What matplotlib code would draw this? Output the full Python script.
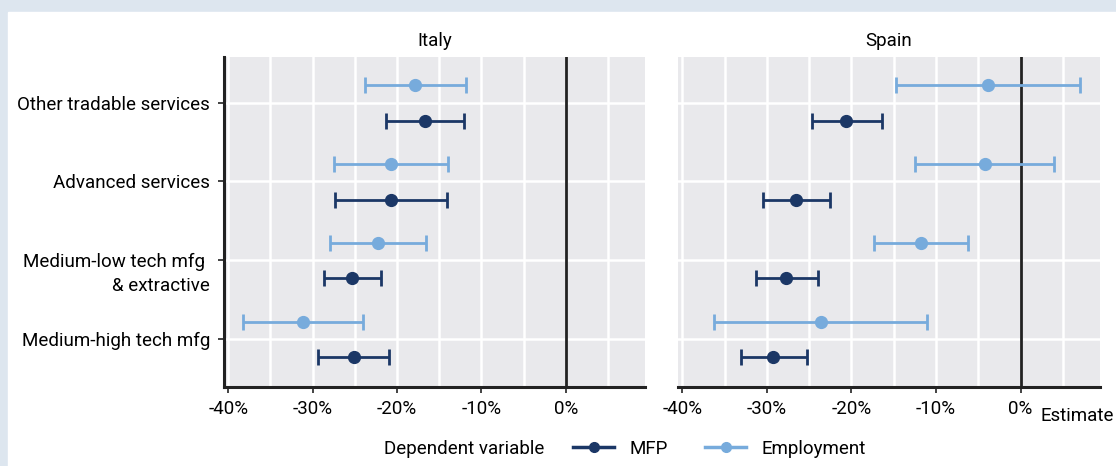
import matplotlib
matplotlib.use("Agg")
import matplotlib.pyplot as plt
from matplotlib.lines import Line2D
from matplotlib.ticker import FuncFormatter, MultipleLocator

plt.rcParams["font.family"] = ["Roboto", "DejaVu Sans"]
plt.rcParams["font.size"] = 13.5

# Sectors, bottom to top; the second line of a two-line label is drawn separately
sectors = ["Medium-high tech mfg", "Medium-low tech mfg ",
           "Advanced services", "Other tradable services"]
sector_second_line = {1: "& extractive"}

# Italy: point estimate, lower and upper bound (%)
italy_mfp = [-25.1, -25.3, -20.7, -16.7]
italy_mfp_lo = [-29.4, -28.6, -27.3, -21.3]
italy_mfp_hi = [-20.9, -21.9, -14.1, -12.0]
italy_emp = [-31.1, -22.3, -20.7, -17.9]
italy_emp_lo = [-38.2, -27.9, -27.5, -23.8]
italy_emp_hi = [-24.0, -16.6, -13.9, -11.8]

# Spain
spain_mfp = [-29.3, -27.7, -26.5, -20.6]
spain_mfp_lo = [-33.1, -31.3, -30.4, -24.7]
spain_mfp_hi = [-25.3, -23.9, -22.5, -16.4]
spain_emp = [-23.6, -11.8, -4.2, -3.8]
spain_emp_lo = [-36.3, -17.3, -12.5, -14.7]
spain_emp_hi = [-11.0, -6.2, 4.0, 7.0]

MFP_COL = "#1b3766"
EMP_COL = "#77abdc"
PANEL = "#e9e9ec"
DARK = "#222222"

fig = plt.figure(figsize=(11.16, 4.66), dpi=100, facecolor="#dde6ef")
fig.patches.append(plt.Rectangle((8 / 1116, 0), 1, 1 - 12 / 466,
                                 transform=fig.transFigure, color="white", zorder=-10))

ax_it = fig.add_axes([224 / 1116, 1 - 387 / 466, 421 / 1116, 330 / 466])
ax_es = fig.add_axes([678 / 1116, 1 - 387 / 466, 422 / 1116, 330 / 466])


def draw_panel(ax, title, mfp, mfp_lo, mfp_hi, emp, emp_lo, emp_hi):
    ax.set_facecolor(PANEL)
    ys = list(range(len(sectors)))
    for vals, lo, hi, col, off in [(emp, emp_lo, emp_hi, EMP_COL, 0.22),
                                   (mfp, mfp_lo, mfp_hi, MFP_COL, -0.23)]:
        y = [v + off for v in ys]
        err = [[v - l for v, l in zip(vals, lo)], [h - v for v, h in zip(vals, hi)]]
        ax.errorbar(vals, y, xerr=err, fmt="o", color=col, ms=8.5, elinewidth=2,
                    capsize=6, capthick=2, zorder=3)
    ax.axvline(0, color=DARK, lw=2, zorder=2)
    ax.set_xlim(-40.5, 9.4)
    ax.set_ylim(-0.61, 3.58)
    ax.set_yticks(ys)
    ax.xaxis.set_major_locator(MultipleLocator(10))
    ax.xaxis.set_minor_locator(MultipleLocator(5))
    ax.xaxis.set_major_formatter(FuncFormatter(lambda v, p: f"{int(round(v))}%"))
    ax.grid(True, which="both", color="white", lw=1.8, zorder=1)
    ax.set_axisbelow(True)
    for s in ["top", "right"]:
        ax.spines[s].set_visible(False)
    ax.spines["bottom"].set_color(DARK)
    ax.spines["bottom"].set_linewidth(2.2)
    ax.spines["left"].set_color(DARK)
    ax.spines["left"].set_linewidth(2.2)
    ax.tick_params(axis="x", which="major", length=4, width=1.2, color=DARK, pad=5)
    ax.tick_params(axis="x", which="minor", length=0)
    ax.tick_params(axis="y", length=4, width=1.2, color=DARK, pad=6)
    ax.set_title(title, fontsize=13.5, pad=8)


draw_panel(ax_it, "Italy", italy_mfp, italy_mfp_lo, italy_mfp_hi,
           italy_emp, italy_emp_lo, italy_emp_hi)
draw_panel(ax_es, "Spain", spain_mfp, spain_mfp_lo, spain_mfp_hi,
           spain_emp, spain_emp_lo, spain_emp_hi)

ax_it.set_yticklabels(sectors)
for i, txt in sector_second_line.items():
    ax_it.annotate(txt, xy=(0, i), xycoords=ax_it.get_yaxis_transform(),
                   xytext=(-10, -17.3), textcoords="offset points",
                   ha="right", va="center_baseline", annotation_clip=False)
ax_es.set_yticklabels([])
ax_es.tick_params(axis="y", length=0)
ax_es.spines["left"].set_visible(False)

fig.text(1114 / 1116, 1 - 416 / 466, "Estimate", ha="right", va="center")

# Legend along the bottom
fig.text(384 / 1116, 1 - 449 / 466, "Dependent variable", ha="left", va="center")
handles = [Line2D([], [], color=MFP_COL, lw=2.5, marker="o", ms=7),
           Line2D([], [], color=EMP_COL, lw=2.5, marker="o", ms=7)]
fig.legend(handles, ["MFP", "Employment"], loc="center left",
           bbox_to_anchor=(573 / 1116, 1 - 449 / 466), ncol=2, frameon=False,
           borderpad=0, borderaxespad=0, handlelength=2.2, handletextpad=0.8,
           columnspacing=2.0)

fig.savefig("out.png", dpi=100, facecolor=fig.get_facecolor())
